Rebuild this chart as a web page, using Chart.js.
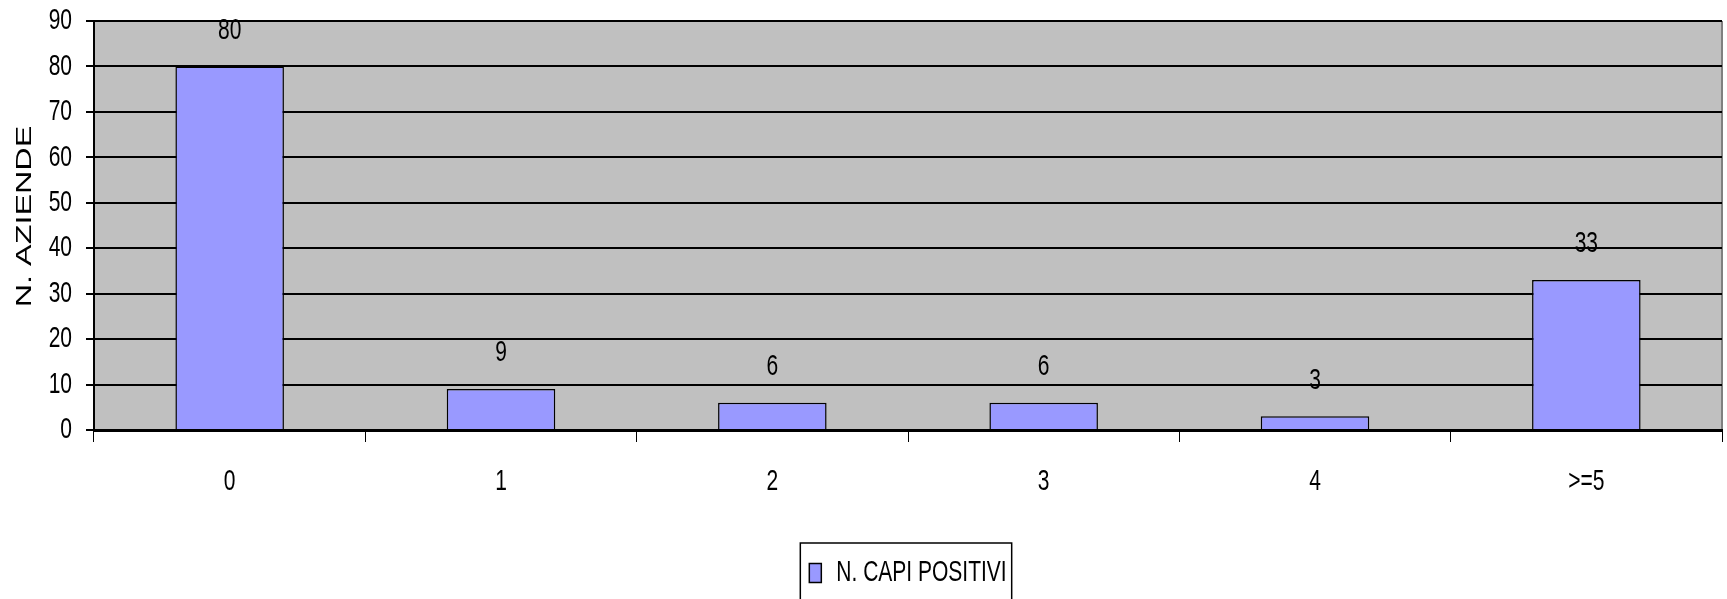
<!DOCTYPE html>
<html>
<head>
<meta charset="utf-8">
<script src="https://cdn.jsdelivr.net/npm/chart.js@4/dist/chart.umd.min.js"></script>
<style>
  html, body { margin: 0; padding: 0; background: #fff; }
  #wrap { width: 1727px; height: 599px; }
</style>
</head>
<body>
<div id="wrap"><canvas id="chart" width="1727" height="599"></canvas></div>
<script>
// data
const categories = ['0', '1', '2', '3', '4', '>=5'];
const capiPositivi = [80, 9, 6, 6, 3, 33];
const yTicks = [0, 10, 20, 30, 40, 50, 60, 70, 80, 90];
const seriesName = 'N. CAPI POSITIVI';
const yTitle = 'N. AZIENDE';

const FONT = "'Liberation Sans', Arial, sans-serif";
const SQUASH = 0.7;   // the original text is drawn tall and narrow

Chart.defaults.font.family = FONT;
Chart.defaults.color = '#000';

// squeeze every text horizontally (and tell chart.js the squeezed widths)
const textSquash = {
  id: 'textSquash',
  beforeInit(chart) {
    const ctx = chart.ctx;
    const fill = ctx.fillText.bind(ctx);
    const measure = ctx.measureText.bind(ctx);
    ctx.squash = SQUASH;
    ctx.fillText = (t, x, y) => {
      const k = ctx.squash;
      if (k === 1) return fill(t, x, y);
      ctx.save();
      ctx.translate(x, y);
      ctx.scale(k, 1);
      fill(t, 0, 0);
      ctx.restore();
    };
    ctx.measureText = (t) => ({ width: measure(t).width * ctx.squash });
  }
};

// grey plot area like the old excel look
const plotBg = {
  id: 'plotBg',
  beforeDraw(chart) {
    const { ctx, chartArea: a } = chart;
    ctx.save();
    ctx.fillStyle = '#c0c0c0';
    ctx.fillRect(a.left, a.top, a.right - a.left, a.bottom - a.top);
    ctx.strokeStyle = '#808080';
    ctx.lineWidth = 2;
    ctx.beginPath();
    ctx.moveTo(a.right, a.top);
    ctx.lineTo(a.right, a.bottom);
    ctx.stroke();
    ctx.restore();
  }
};

// value above each bar
const barValues = {
  id: 'barValues',
  afterDatasetsDraw(chart) {
    const { ctx } = chart;
    const meta = chart.getDatasetMeta(0);
    ctx.save();
    ctx.font = '30px ' + FONT;
    ctx.fillStyle = '#000';
    ctx.textAlign = 'center';
    ctx.textBaseline = 'middle';
    meta.data.forEach((bar, i) => {
      ctx.fillText(String(capiPositivi[i]), bar.x, bar.y - 36);
    });
    ctx.restore();
  }
};

// rotated axis title, this one is stretched wide
const axisTitle = {
  id: 'axisTitle',
  afterDraw(chart) {
    const { ctx, chartArea: a } = chart;
    ctx.save();
    ctx.squash = 1;
    ctx.font = '22px ' + FONT;
    ctx.fillStyle = '#000';
    ctx.textAlign = 'center';
    ctx.textBaseline = 'middle';
    ctx.translate(25, (a.top + a.bottom) / 2 - 9);
    ctx.rotate(-Math.PI / 2);
    ctx.scale(1.47, 1);
    ctx.fillText(yTitle, 0, 0);
    ctx.squash = SQUASH;
    ctx.restore();
  }
};

// frame round the legend
const legendFrame = {
  id: 'legendFrame',
  afterDraw(chart) {
    const lg = chart.legend;
    if (!lg || !lg.legendHitBoxes || !lg.legendHitBoxes.length) return;
    const hb = lg.legendHitBoxes[0];
    const { ctx } = chart;
    const top = hb.top + hb.height / 2 - 30;
    ctx.save();
    ctx.strokeStyle = '#000';
    ctx.lineWidth = 1.5;
    ctx.strokeRect(hb.left - 9, top, hb.width + 14, chart.height - top + 5);
    ctx.restore();
  }
};

new Chart(document.getElementById('chart').getContext('2d'), {
  type: 'bar',
  data: {
    labels: categories,
    datasets: [{
      label: seriesName,
      data: capiPositivi,
      backgroundColor: '#9999ff',
      borderColor: '#000',
      borderWidth: 1.5,
      barPercentage: 0.8,
      categoryPercentage: 0.5
    }]
  },
  options: {
    responsive: false,
    animation: false,
    layout: { padding: { left: 0, right: 5, top: 21, bottom: 1 } },
    plugins: {
      tooltip: { enabled: false },
      legend: {
        position: 'bottom',
        fullSize: false,
        labels: {
          font: { size: 30 },
          boxWidth: 12,
          boxHeight: 19,
          padding: 10
        }
      }
    },
    scales: {
      x: {
        grid: { offset: true, drawOnChartArea: false, color: '#000', lineWidth: 1, tickLength: 12 },
        border: { color: '#000', width: 3 },
        ticks: { font: { size: 30 }, padding: 22, maxRotation: 0 },
        afterFit(s) { s.height = 118; }
      },
      y: {
        min: 0, max: 90,
        afterBuildTicks(s) { s.ticks = yTicks.map(v => ({ value: v })); },
        grid: { color: '#000', lineWidth: 2, tickLength: 8 },
        border: { color: '#000', width: 2 },
        ticks: { font: { size: 30 }, padding: 14 },
        afterFit(s) { s.width = 94; s.paddingTop = 0; s.paddingBottom = 0; }
      }
    }
  },
  plugins: [textSquash, plotBg, barValues, axisTitle, legendFrame]
});
</script>
</body>
</html>
